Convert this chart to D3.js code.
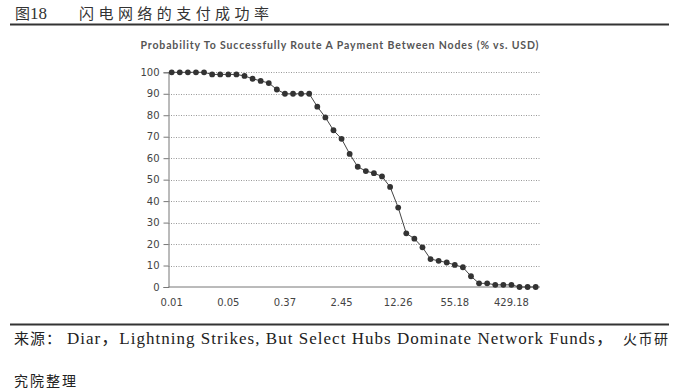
<!DOCTYPE html>
<html>
<head>
<meta charset="utf-8">
<script src="https://cdn.jsdelivr.net/npm/d3@7"></script>
<style>
  body { margin: 0; background: #fff; }
  svg { display: block; }
</style>
</head>
<body>
<div id="chart"></div>
<script>
// probability (%) of routing a payment, one value per payment size step
var probValues = [100, 100, 100, 100, 100, 99, 99, 99, 99, 98.3, 97, 96, 95, 92, 90, 90, 90, 90,
    84, 79, 73, 69, 62, 56, 54, 53, 51.5, 46.6, 37, 25, 22.5, 18.5, 13, 12.2, 11.4, 10.3, 9.2,
    5, 1.7, 1.7, 1, 1, 1, 0, 0, 0];
// labels shown on x axis (USD), one every 7 points
var xTickLabels = ["0.01", "0.05", "0.37", "2.45", "12.26", "55.18", "429.18"];
var xTickStep = 7;
var yTicks = [0, 10, 20, 30, 40, 50, 60, 70, 80, 90, 100];

var svgWidth = 678;
var svgHeight = 392;

var svg = d3.select("#chart")
    .append("svg")
    .attr("width", svgWidth)
    .attr("height", svgHeight);

// header
var head = svg.append("text")
    .attr("y", 19)
    .attr("font-size", 16)
    .attr("fill", "#333");
head.append("tspan")
    .attr("x", 15)
    .attr("font-family", "'Noto Sans CJK SC', serif")
    .attr("font-size", 15)
    .text("图");
head.append("tspan")
    .attr("font-family", "'Liberation Serif', serif")
    .attr("font-size", 17)
    .text("18");

svg.append("text")
    .attr("x", 79)
    .attr("y", 19)
    .attr("font-family", "'Noto Sans CJK SC', serif")
    .attr("font-size", 15)
    .attr("fill", "#333")
    .attr("textLength", 190)
    .text("闪电网络的支付成功率");

svg.append("line")
    .attr("x1", 10).attr("x2", 669)
    .attr("y1", 24.5).attr("y2", 24.5)
    .attr("stroke", "#333")
    .attr("stroke-width", 2);

svg.append("text")
    .attr("x", 339.5)
    .attr("y", 49)
    .attr("text-anchor", "middle")
    .attr("font-family", "Lato, 'Open Sans', sans-serif")
    .attr("font-weight", "bold")
    .attr("font-size", 10.5)
    .attr("fill", "#555")
    .attr("textLength", 398)
    .text("Probability To Successfully Route A Payment Between Nodes (% vs. USD)");

var x = d3.scalePoint()
    .domain(d3.range(probValues.length))
    .range([171.7, 535.7]);

var y = d3.scaleLinear()
    .domain([0, 100])
    .range([287, 72.3]);

var chartGroup = svg.append("g");

// dotted gridlines
chartGroup.append("g")
    .selectAll("line")
    .data(yTicks.filter(d => d > 0))
    .enter()
    .append("line")
    .attr("x1", 168.5)
    .attr("x2", 540)
    .attr("y1", d => Math.round(y(d)) + 0.5)
    .attr("y2", d => Math.round(y(d)) + 0.5)
    .attr("stroke", "#999")
    .attr("stroke-width", 1)
    .attr("stroke-dasharray", "1,1.5");

// y axis
var leftAxis = d3.axisLeft(y)
    .tickValues(yTicks)
    .tickSize(5)
    .tickPadding(4);

var yAxisG = chartGroup.append("g")
    .attr("transform", "translate(168.5, 0)")
    .call(leftAxis);
yAxisG.select(".domain").attr("stroke", "#777");
yAxisG.selectAll(".tick line").attr("stroke", "#777");
yAxisG.selectAll(".tick text")
    .attr("font-family", "'DejaVu Sans', Verdana, sans-serif")
    .attr("font-size", 10)
    .attr("fill", "#444");

// x axis line
chartGroup.append("line")
    .attr("x1", 168.5).attr("x2", 540)
    .attr("y1", 287).attr("y2", 287)
    .attr("stroke", "#777");

chartGroup.append("g")
    .selectAll("text")
    .data(xTickLabels)
    .enter()
    .append("text")
    .attr("x", (d, i) => x(i * xTickStep))
    .attr("y", 305.5)
    .attr("text-anchor", "middle")
    .attr("font-family", "'DejaVu Sans', Verdana, sans-serif")
    .attr("font-size", 10)
    .attr("fill", "#444")
    .text(d => d);

// series
var line = d3.line()
    .x((d, i) => x(i))
    .y(d => y(d));

chartGroup.append("path")
    .datum(probValues)
    .attr("d", line)
    .attr("fill", "none")
    .attr("stroke", "#444")
    .attr("stroke-width", 1);

chartGroup.append("g")
    .selectAll("circle")
    .data(probValues)
    .enter()
    .append("circle")
    .attr("cx", (d, i) => x(i))
    .attr("cy", d => y(d))
    .attr("r", 2.9)
    .attr("fill", "#333");

// footer
svg.append("line")
    .attr("x1", 10).attr("x2", 669)
    .attr("y1", 324.5).attr("y2", 324.5)
    .attr("stroke", "#333")
    .attr("stroke-width", 2);

var src = svg.append("text")
    .attr("y", 344)
    .attr("font-family", "'Liberation Serif', 'Noto Sans CJK SC', serif")
    .attr("font-size", 17)
    .attr("fill", "#222");
src.append("tspan")
    .attr("x", 14)
    .attr("font-family", "'Noto Sans CJK SC', serif")
    .attr("font-size", 15)
    .attr("letter-spacing", 1)
    .text("来源：");
src.append("tspan")
    .attr("x", 67)
    .attr("textLength", 546)
    .text("Diar，Lightning Strikes, But Select Hubs Dominate Network Funds，");
src.append("tspan")
    .attr("x", 623)
    .attr("font-family", "'Noto Sans CJK SC', serif")
    .attr("font-size", 14)
    .attr("letter-spacing", 1.5)
    .text("火币研");

svg.append("text")
    .attr("x", 14)
    .attr("y", 386)
    .attr("font-family", "'Noto Sans CJK SC', serif")
    .attr("font-size", 14)
    .attr("fill", "#222")
    .attr("letter-spacing", 2)
    .text("究院整理");
</script>
</body>
</html>
